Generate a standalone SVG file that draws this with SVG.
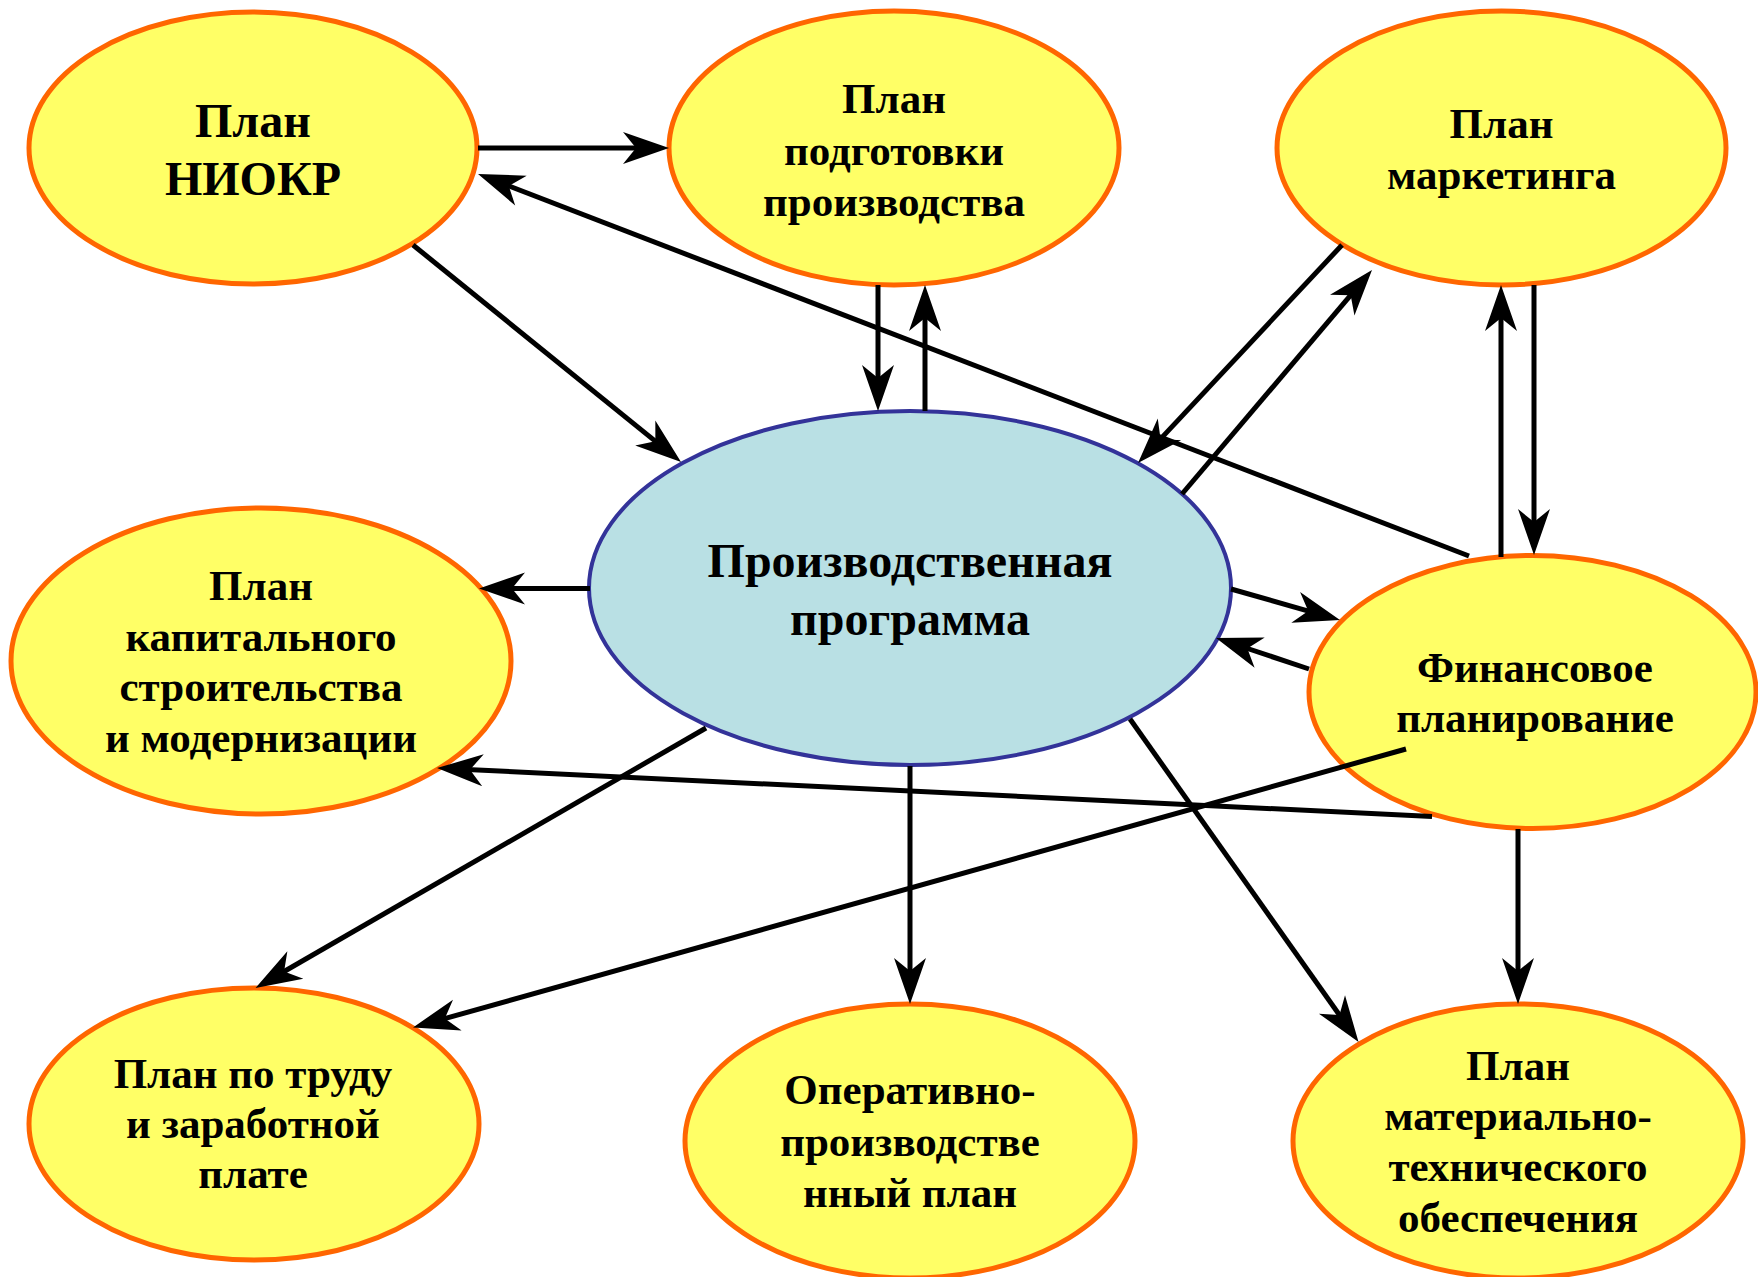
<svg xmlns="http://www.w3.org/2000/svg" width="1758" height="1277" viewBox="0 0 1758 1277">
<defs>
<marker id="ah" markerUnits="userSpaceOnUse" markerWidth="60" markerHeight="40" viewBox="-20 -20 60 40" refX="0" refY="0" orient="auto">
<path d="M30,0 L-16,-16 L-3,0 L-16,16 Z" fill="#000"/>
</marker>
</defs>
<style>
.y{fill:#FFFF66;stroke:#FF6600;stroke-width:5}
.b{fill:#B9E0E4;stroke:#333399;stroke-width:4}
text{font-family:"Liberation Serif","Times New Roman",serif;font-weight:bold;fill:#000;text-anchor:middle}
.t43{font-size:43px}
.t48{font-size:48px}
.c line{stroke:#000;stroke-width:5;marker-end:url(#ah)}
.c line.n{marker-end:none}
</style>
<rect width="1758" height="1277" fill="#fff"/>
<g id="niokr"><ellipse class="y" cx="253" cy="148" rx="224" ry="136"/>
<text class="t48" x="253" y="137">План</text><text class="t48" x="253" y="195">НИОКР</text></g>
<g id="podgotovka"><ellipse class="y" cx="894" cy="148" rx="225" ry="137"/>
<text class="t43" x="894" y="113">План</text><text class="t43" x="894" y="164.5">подготовки</text><text class="t43" x="894" y="216">производства</text></g>
<g id="marketing"><ellipse class="y" cx="1501.5" cy="148" rx="224.5" ry="137"/>
<text class="t43" x="1501.5" y="138">План</text><text class="t43" x="1501.5" y="189">маркетинга</text></g>
<g id="proizv"><ellipse class="b" cx="910" cy="588" rx="321" ry="177"/>
<text class="t48" x="910" y="576.5">Производственная</text><text class="t48" x="910" y="634.5">программа</text></g>
<g id="kapital"><ellipse class="y" cx="261" cy="661" rx="250" ry="153"/>
<text class="t43" x="261" y="600">План</text><text class="t43" x="261" y="650.5">капитального</text><text class="t43" x="261" y="701">строительства</text><text class="t43" x="261" y="751.5">и модернизации</text></g>
<g id="finans"><ellipse class="y" cx="1532.5" cy="692" rx="223.5" ry="136.5"/>
<text class="t43" x="1535" y="682">Финансовое</text><text class="t43" x="1535" y="732">планирование</text></g>
<g id="trud"><ellipse class="y" cx="254" cy="1124" rx="225" ry="136"/>
<text class="t43" x="253" y="1088">План по труду</text><text class="t43" x="253" y="1138">и заработной</text><text class="t43" x="253" y="1188">плате</text></g>
<g id="operativ"><ellipse class="y" cx="910" cy="1141" rx="225" ry="137"/>
<text class="t43" x="910" y="1104">Оперативно-</text><text class="t43" x="910" y="1156">производстве</text><text class="t43" x="910" y="1207">нный план</text></g>
<g id="mto"><ellipse class="y" cx="1518" cy="1141" rx="225" ry="137"/>
<text class="t43" x="1518" y="1080">План</text><text class="t43" x="1518" y="1130">материально-</text><text class="t43" x="1518" y="1180.5">технического</text><text class="t43" x="1518" y="1232">обеспечения</text></g>
<g id="connectors" class="c">
<line x1="478" y1="148" x2="639" y2="148"/>
<line x1="1469" y1="556" x2="506" y2="184.8"/>
<line x1="413" y1="245" x2="657.7" y2="443.1"/>
<line x1="878" y1="285" x2="878" y2="381"/>
<line x1="925" y1="411" x2="925" y2="315"/>
<line x1="1342" y1="245" x2="1158.5" y2="441.1"/>
<line x1="1182" y1="494" x2="1352.6" y2="292.9"/>
<line x1="1501" y1="557" x2="1501" y2="315"/>
<line x1="1534" y1="285" x2="1534" y2="525"/>
<line x1="590" y1="588.5" x2="509" y2="588.5"/>
<line x1="1231" y1="589" x2="1311.1" y2="611.8"/>
<line x1="1309" y1="669" x2="1244.5" y2="647.5"/>
<line x1="1432" y1="816.5" x2="467" y2="769.5"/>
<line x1="1406" y1="749" x2="441.9" y2="1019.4"/>
<line x1="706" y1="728" x2="281.5" y2="973"/>
<line x1="910" y1="766" x2="910" y2="974"/>
<line x1="1130" y1="719" x2="1341.2" y2="1017.5"/>
<line x1="1518" y1="829" x2="1518" y2="974"/>
</g>
</svg>
